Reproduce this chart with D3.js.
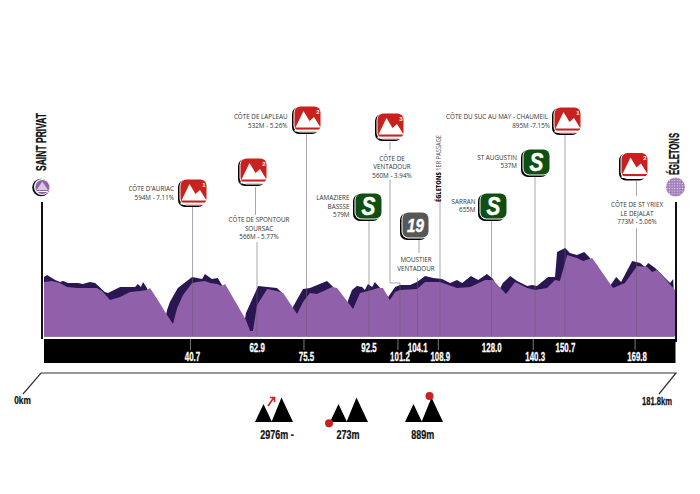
<!DOCTYPE html>
<html><head><meta charset="utf-8">
<script src="https://cdn.jsdelivr.net/npm/d3@7"></script>
<style>html,body{margin:0;padding:0;background:#fff}svg{display:block}</style>
</head><body><svg id="c" width="700" height="494"></svg>
<script>
// ---- data ----
const profileKm=[0,2.3,4.6,6.6,9.5,10.9,13.2,15.2,16.7,19.0,21.9,24.7,27.6,29.6,30.5,33.1,35.4,37.1,38.3,40.0,42.6,44.0,46.3,47.8,49.8,51.2,52.1,58.1,59.3,60.1,61.3,64.2,67.0,68.8,72.8,74.5,76.5,78.5,82.9,84.3,88.9,90.9,93.2,96.1,97.5,99.5,101.0,102.4,107.3,109.6,113.9,118.8,122.6,126.9,129.2,132.9,135.5,139.0,141.3,144.7,147.0,148.4,150.5,153.3,155.1,157.7,163.7,167.1,170.6,173.5,174.9,176.4,181.5,181.8];
const profileEle=[633,641,626,596,588,588,588,588,566,498,521,558,566,573,588,483,386,318,438,536,626,633,641,626,618,603,618,348,265,265,461,581,566,551,393,483,551,543,596,588,431,551,566,588,588,498,558,573,581,633,633,588,596,648,648,543,633,588,573,588,648,641,836,814,791,814,588,626,754,746,709,724,573,560];
const ribbonKm=[0,0.9,3.2,4.6,5.5,6.9,9.8,11.2,13.2,14.7,17.5,18.4,21.9,26.2,27.0,27.9,28.5,29.6,31.1,34.8,35.4,36.2,38.5,42.6,45.5,46.3,48.3,50.0,51.5,53.5,57.5,58.1,61.6,67.0,68.5,71.3,71.6,74.5,76.5,81.4,82.9,85.2,87.2,87.5,88.6,90.0,91.5,92.3,93.2,94.4,95.2,96.4,97.5,99.0,101.0,102.4,105.3,107.3,109.6,112.0,114.5,116.8,118.8,120.3,122.8,124.9,127.4,129.2,130.6,132.0,134.1,136.1,139.0,140.4,141.8,145.0,147.0,147.6,149.9,151.3,153.3,155.4,156.8,158.5,162.8,164.6,166.0,169.2,171.5,172.9,173.8,175.8,180.1,181.0,181.2];
const ribbonEle=[671,686,648,633,641,626,626,618,633,626,558,551,596,596,618,596,633,588,498,348,423,483,588,671,656,694,656,664,596,498,310,401,603,588,551,386,446,581,588,641,603,536,423,498,573,603,596,573,618,596,633,596,573,521,596,611,611,633,679,664,656,626,648,626,679,648,694,656,558,626,679,641,603,611,603,671,671,859,889,851,836,859,821,761,603,671,633,791,776,746,776,739,626,656,536];
const tickLabels=["40.7","62.9","75.5","92.5","101.2","104.1","108.9","128.0","140.3","150.7","169.8"];
const tickDrawnKm=[42.7,61.3,75.5,93.5,102.4,107.5,114,128.8,141.3,150,170.6];
const startName="SAINT PRIVAT", finishName="ÉGLETONS";
const legendTexts=["2976m -","273m","889m"];
const axisEnds=["0km","181.8km"];
const kmDomain=[0,181.8], eleDomain=[273,889];

// ---- layout ----
const svg=d3.select("#c");
const x=d3.scaleLinear().domain(kmDomain).range([44,676]);
const y=d3.scaleLinear().domain(eleDomain).range([330,248]);
const baseY=336.5;
const PURPLE="#9060ab",DARK="#2a1650",RED="#c9211e",GREEN="#0f5012",GREY="#575757",TXT="#333";
const COND="'Liberation Sans',Arial,sans-serif";
const BODY="'Open Sans','Noto Sans',sans-serif";

// squeezed heavy text: the source uses a condensed display face
function cond(px,py,txt,size,fill,sx,parent){
  return (parent||svg).append("text").attr("transform",`translate(${px},${py}) scale(${sx||.68},1)`)
    .attr("text-anchor","middle").attr("font-family",COND).attr("font-weight",700)
    .attr("font-size",size).attr("fill",fill).attr("stroke",fill).attr("stroke-width",.25).text(txt);
}

const area=d3.area().x(d=>x(d[0])).y1(d=>y(d[1])).y0(baseY);
const defs=svg.append("defs");
const pat=defs.append("pattern").attr("id","dots").attr("width",2.6).attr("height",2.6).attr("patternUnits","userSpaceOnUse");
pat.append("rect").attr("width",2.6).attr("height",2.6).attr("fill","#a27cbb");
pat.append("circle").attr("cx",1.3).attr("cy",1.3).attr("r",.65).attr("fill","#e6dcee");

svg.append("path").datum(d3.zip(ribbonKm,ribbonEle)).attr("d",area).attr("fill",DARK);
svg.append("path").datum(d3.zip(profileKm,profileEle)).attr("d",area).attr("fill",PURPLE);

// poles
svg.append("line").attr("x1",42).attr("x2",42).attr("y1",202).attr("y2",339).attr("stroke","#111").attr("stroke-width",2);
svg.append("line").attr("x1",676).attr("x2",676).attr("y1",202).attr("y2",342).attr("stroke","#111").attr("stroke-width",2);

// black bar
svg.append("rect").attr("x",44).attr("y",339).attr("width",631.5).attr("height",24).attr("fill","#000");

// leader lines: [x1,y1,x2,y2]
const leaders=[[192.5,207,192.5,336],[255.5,187,255.5,215],[257,242,257,336],[306.5,134,306.5,336],[369,221,369,336],
[390,142,390,150],[390,180,390,283],[390,283,400,283],[400,283,400,336],[419,239,419,253],[417.5,278,417.5,336],
[440,202,440,336],[491.5,221,491.5,336],[535,177,535,336],[565,135,565,336],[636.5,181,636.5,196],[636.5,228,636.5,336]];
svg.append("g").selectAll("line").data(leaders).join("line")
 .attr("x1",d=>d[0]).attr("y1",d=>d[1]).attr("x2",d=>d[2]).attr("y2",d=>d[3])
 .attr("stroke","#6a5a70").attr("stroke-opacity",.62).attr("stroke-width",.9);

// bar ticks and labels
const tickRows=[1,0,1,0,1,0,1,0,1,0,1];
const tickShift=[-2,0,-2.5,0,-2,0,-2,0,-2,0,-2];
const tg=svg.append("g");
tickLabels.forEach((t,i)=>{
  const px=x(tickDrawnKm[i]);
  if(tickRows[i]) tg.append("line").attr("x1",px+tickShift[i]).attr("x2",px+tickShift[i]).attr("y1",339).attr("y2",350).attr("stroke","#888").attr("stroke-width",.9);
  cond(px,tickRows[i]?361:351.5,t,12,"#fff",.66,tg);
});

// badges
function badge(x0,y0,col,kind,label){
  const g=svg.append("g").attr("transform",`translate(${x0},${y0})`);
  g.append("rect").attr("x",0).attr("y",1).attr("width",27).attr("height",27).attr("rx",7).attr("fill","#000");
  g.append("rect").attr("x",1.5).attr("y",0).attr("width",27.5).attr("height",26.5).attr("rx",7).attr("fill","#fff");
  g.append("rect").attr("x",2.5).attr("y",.5).attr("width",26).attr("height",25).attr("rx",6).attr("fill",col);
  if(kind==="climb"){
    g.append("path").attr("d","M3.5 21.5 L11.5 5 L17.5 15 L22 11 L28.5 21.5 Z").attr("fill","#fff");
    g.append("rect").attr("x",2.5).attr("y",23.6).attr("width",26).attr("height",1.9).attr("fill","#fff");
    g.append("text").attr("x",26).attr("y",7.5).attr("text-anchor","middle").attr("font-family",COND).attr("font-weight",700).attr("font-size",6).attr("fill","#fff").text(label);
  } else {
    g.append("text").attr("transform",`translate(15.5,${kind==="S"?22:19.5}) scale(.8,1)`).attr("text-anchor","middle").attr("font-family",COND)
      .attr("font-weight",700).attr("font-style","italic").attr("font-size",kind==="S"?26:19)
      .attr("fill","#fff").attr("stroke","#fff").attr("stroke-width",.5).text(label);
  }
}
badge(178,179,RED,"climb","1");
badge(238,158,RED,"climb","2");
badge(292,106,RED,"climb","2");
badge(375,113,RED,"climb","3");
badge(552,107,RED,"climb","1");
badge(619,152.5,RED,"climb","2");
badge(353,193,GREEN,"S","S");
badge(521,149,GREEN,"S","S");
badge(478,193,GREEN,"S","S");
badge(400,212,GREY,"feed","19");

// place labels
const labels=[
 ["end",174,189,"CÔTE D'AURIAC"],["end",174,197.5,"594M - 7.11%"],
 ["middle",259,220,"CÔTE DE SPONTOUR"],["middle",259,228.5,"SOURSAC"],["middle",259,237,"566M - 5.77%"],
 ["end",287.5,117,"CÔTE DE LAPLEAU"],["end",287.5,125.5,"532M - 5.26%"],
 ["end",349.5,198,"LAMAZIERE"],["end",349.5,206.5,"BASSSE"],["end",349.5,215,"579M"],
 ["middle",392,158.5,"CÔTE DE"],["middle",392,167,"VENTADOUR"],["middle",392,176,"560M - 3.94%"],
 ["middle",416,260,"MOUSTIER"],["middle",416,269,"VENTADOUR"],
 ["end",548,117,"CÔTE DU SUC AU MAY - CHAUMEIL"],["end",550,125.5,"895M -7.15%"],
 ["end",517,157.5,"ST AUGUSTIN"],["end",517,166,"537M"],
 ["end",475.5,202,"SARRAN"],["end",475.5,210,"655M"],
 ["middle",637,205,"CÔTE DE ST YRIEX"],["middle",637,213.5,"LE DEJALAT"],["middle",637,222,"773M - 5.06%"]];
svg.append("g").selectAll("text").data(labels).join("text")
 .attr("text-anchor",d=>d[0]).attr("x",d=>d[1]).attr("y",d=>d[2]).attr("dy","0.35em")
 .attr("font-family",BODY).attr("font-size",6.3).attr("fill",TXT).text(d=>d[3]);

// rotated place names
function vert(cx,bottom,len,txt,size){
  svg.append("text").attr("transform",`translate(${cx},${bottom}) rotate(-90)`).attr("dy","0.35em")
   .attr("font-family",COND).attr("font-weight",700).attr("font-size",size).attr("fill","#111").attr("stroke","#111").attr("stroke-width",.3)
   .attr("textLength",len).attr("lengthAdjust","spacingAndGlyphs").text(txt);
}
vert(41,171,58,startName,14.5);
vert(674,175,42,finishName,14.5);
const pass=svg.append("text").attr("transform","translate(439,202) rotate(-90)").attr("dy","0.35em").attr("font-size",6.2).attr("font-family",BODY).attr("fill","#555")
  .attr("textLength",67).attr("lengthAdjust","spacingAndGlyphs");
pass.append("tspan").attr("font-weight",800).attr("fill","#111").text("ÉGLETONS ");
pass.append("tspan").text("1ER PASSAGE");

// start / finish roundels
svg.append("circle").attr("cx",41).attr("cy",187.5).attr("r",8.8).attr("fill","#111");
svg.append("circle").attr("cx",42).attr("cy",187).attr("r",8).attr("fill","#fff");
svg.append("circle").attr("cx",42.3).attr("cy",187).attr("r",7).attr("fill",PURPLE);
svg.append("path").attr("d","M42.3 181.5 L48 190 H36.6 Z").attr("fill","#d8c8e4");
svg.append("rect").attr("x",37).attr("y",191).attr("width",10.6).attr("height",1).attr("fill","#fff");
svg.append("circle").attr("cx",675.5).attr("cy",187).attr("r",9.5).attr("fill","url(#dots)");

// km bracket
svg.append("path").attr("d","M23 394 L41 373 H676 L659 394").attr("fill","none").attr("stroke","#333").attr("stroke-width",1.2);
cond(22.5,403.5,axisEnds[0],11.5,"#111",.72);
cond(657,405,axisEnds[1],11.5,"#111",.66);

// legend icons
function mountains(ox){
  svg.append("path").attr("d",`M${ox} 422 L${ox+8.5} 404 L${ox+17} 422 Z M${ox+16.5} 422 L${ox+26.5} 397.5 L${ox+38} 422 Z`).attr("fill","#000");
}
mountains(255);mountains(330);mountains(405);
svg.append("path").attr("d","M268 406 L273.5 398 M270 397.5 H274.5 V402").attr("fill","none").attr("stroke",RED).attr("stroke-width",1.6);
svg.append("circle").attr("cx",329).attr("cy",423.3).attr("r",4).attr("fill",RED);
svg.append("circle").attr("cx",429.5).attr("cy",396).attr("r",4).attr("fill",RED);
cond(277,438.5,legendTexts[0],12.5,"#111",.72);
cond(348,438.5,legendTexts[1],12.5,"#111",.72);
cond(422.7,438.5,legendTexts[2],12.5,"#111",.72);
</script></body></html>
